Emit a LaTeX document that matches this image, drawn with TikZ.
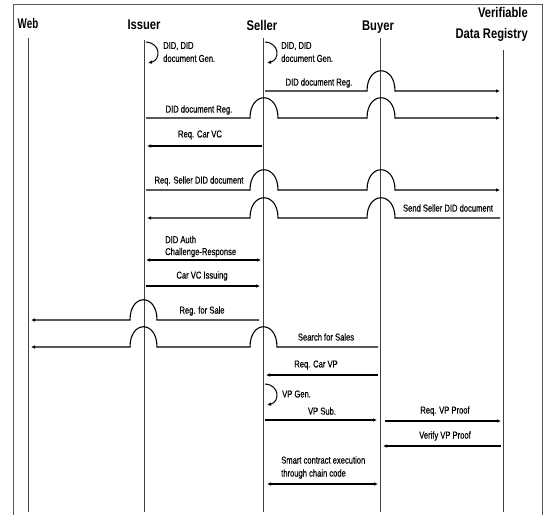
\documentclass[tikz,border=0pt]{standalone}
\usepackage{fontspec}
\setmainfont[FakeStretch=0.8]{Liberation Sans}
\newfontfamily\lblfont[FakeStretch=0.76,FakeBold=0.4]{Liberation Sans}
\newfontfamily\webfont[FakeStretch=0.7]{Liberation Sans}
\usetikzlibrary{arrows.meta}
\begin{document}
\begin{tikzpicture}[x=1pt,y=-1pt,
  life/.style={draw=black!75, line width=0.9pt},
  frame/.style={draw=black!65, line width=0.8pt},
  msg/.style={line width=1.1pt, -{Latex[length=4pt,width=3.6pt]}},
  dmsg/.style={line width=1.1pt, {Latex[length=4pt,width=3.6pt]}-{Latex[length=4pt,width=3.6pt]}},
  selfloop/.style={line width=1pt, -{Latex[length=4pt,width=3.6pt]}},
  hump/.style={to path={.. controls +(0,-27) and +(0,-27) .. (\tikztotarget)}},
  lbl/.style={font=\lblfont\fontsize{10}{11}\selectfont, inner sep=0pt},
  mlbl/.style={font=\lblfont\fontsize{10}{13}\selectfont, inner sep=0pt, align=left, anchor=west},
  head/.style={font=\bfseries\fontsize{14}{21}\selectfont, inner sep=0pt}]
\useasboundingbox (0,0) rectangle (543,515);
\draw[frame] (13,515) -- (13,4) -- (542,4) -- (542,515);

% headers
\node[head, font=\webfont\bfseries\fontsize{14}{21}\selectfont] (hweb) at (28,23) {Web};
\node[head] (hiss) at (144,25) {Issuer};
\node[head] (hsel) at (262,25) {Seller};
\node[head] (hbuy) at (378,27) {Buyer};
\node[head, align=right, anchor=east] (hvdr) at (528,24) {Verifiable\\Data Registry};

% lifelines
\coordinate (wt) at (28,38);  \coordinate (wb) at (28,512);
\coordinate (it) at (144,40); \coordinate (ib) at (144,512);
\coordinate (st) at (263,38); \coordinate (sb) at (263,512);
\coordinate (bt) at (380,38); \coordinate (bb) at (380,512);
\coordinate (vt) at (503,50); \coordinate (vb) at (503,512);
\draw[life] (wt) -- (wb);
\draw[life] (it) -- (ib);
\draw[life] (st) -- (sb);
\draw[life] (bt) -- (bb);
\draw[life] (vt) -- (vb);

% self loops
\coordinate (l1a) at (146,42); \coordinate (l1b) at (148,63);
\draw[selfloop] (l1a) .. controls (161,43) and (161,60) .. (l1b);
\node[mlbl] (t1) at (163,52) {DID, DID\\document Gen.};
\coordinate (l2a) at (265,42); \coordinate (l2b) at (267,63);
\draw[selfloop] (l2a) .. controls (280,43) and (280,60) .. (l2b);
\node[mlbl] (t2) at (281,52) {DID, DID\\document Gen.};

% 3 Seller -> VDR
\coordinate (a3) at (265,91); \coordinate (b3) at (500,91);
\draw[msg] (a3) -- (367,91) to[hump] (395,91) -- (b3);
\node[lbl] (t3) at (319,83) {DID document Reg.};

% 4 Issuer -> VDR
\coordinate (a4) at (146,118); \coordinate (b4) at (500,118);
\draw[msg] (a4) -- (250,118) to[hump] (278,118) -- (367,118) to[hump] (395,118) -- (b4);
\node[lbl] (t4) at (199,110) {DID document Reg.};

% 5 Seller -> Issuer
\coordinate (a5) at (262,146); \coordinate (b5) at (147,146);
\draw[msg] (a5) -- (b5);
\node[lbl] (t5) at (200,135) {Req. Car VC};

% 6 Issuer -> VDR
\coordinate (a6) at (146,190); \coordinate (b6) at (500,190);
\draw[msg] (a6) -- (250,190) to[hump] (278,190) -- (367,190) to[hump] (395,190) -- (b6);
\node[lbl] (t6) at (199,181) {Req. Seller DID document};

% 7 VDR -> Issuer
\coordinate (a7) at (500,218); \coordinate (b7) at (147,218);
\draw[msg] (a7) -- (395,218) to[hump] (367,218) -- (278,218) to[hump] (250,218) -- (b7);
\node[lbl] (t7) at (448,208) {Send Seller DID document};

% 8 DID Auth
\coordinate (a8) at (146,260); \coordinate (b8) at (261,260);
\draw[dmsg] (a8) -- (b8);
\node[mlbl, font=\lblfont\fontsize{10}{12}\selectfont] (t8) at (165,246.5) {DID Auth\\Challenge-Response};

% 9 Car VC Issuing
\coordinate (a9) at (146,286); \coordinate (b9) at (260,286);
\draw[msg] (a9) -- (b9);
\node[lbl] (t9) at (202,276) {Car VC Issuing};

% 10 Reg. for Sale
\coordinate (a10) at (259,320); \coordinate (b10) at (31,320);
\draw[msg] (a10) -- (157,320) to[hump] (130,320) -- (b10);
\node[lbl] (t10) at (202,311) {Reg. for Sale};

% 11 Search for Sales
\coordinate (a11) at (378,347); \coordinate (b11) at (31,347);
\draw[msg] (a11) -- (277,347) to[hump] (250,347) -- (157,347) to[hump] (130,347) -- (b11);
\node[lbl] (t11) at (326,337) {Search for Sales};

% 12 Req. Car VP
\coordinate (a12) at (378,375); \coordinate (b12) at (266,375);
\draw[msg] (a12) -- (b12);
\node[lbl] (t12) at (316,365) {Req. Car VP};

% 13 VP Gen.
\coordinate (l3a) at (265,384); \coordinate (l3b) at (267,405);
\draw[selfloop] (l3a) .. controls (280,385) and (280,402) .. (l3b);
\node[mlbl] (t13) at (282,394) {VP Gen.};

% 14 VP Sub.
\coordinate (a14) at (265,420); \coordinate (b14) at (377,420);
\draw[msg] (a14) -- (b14);
\node[lbl] (t14) at (322,411) {VP Sub.};

% 15 Req. VP Proof
\coordinate (a15) at (385,421); \coordinate (b15) at (501,421);
\draw[msg] (a15) -- (b15);
\node[lbl] (t15) at (445,411) {Req. VP Proof};

% 16 Verify VP Proof
\coordinate (a16) at (501,446); \coordinate (b16) at (383,446);
\draw[msg] (a16) -- (b16);
\node[lbl] (t16) at (445,436) {Verify VP Proof};

% 17 Smart contract
\coordinate (a17) at (267,484); \coordinate (b17) at (378,484);
\draw[dmsg] (a17) -- (b17);
\node[mlbl] (t17) at (281,467.5) {Smart contract execution\\through chain code};
\end{tikzpicture}
\end{document}
